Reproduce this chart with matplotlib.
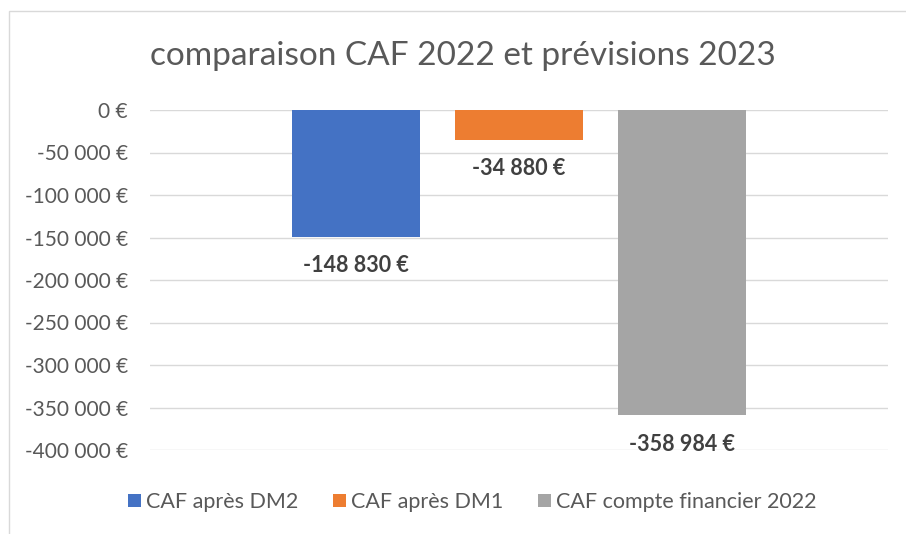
import matplotlib.pyplot as plt
from matplotlib.patches import Rectangle

series = ["CAF après DM2", "CAF après DM1", "CAF compte financier 2022"]
values = [-148830, -34880, -358984]
colors = ["#4472C4", "#ED7D31", "#A5A5A5"]
yticks = [0, -50000, -100000, -150000, -200000, -250000, -300000, -350000, -400000]

plt.rcParams['font.family'] = ['Lato', 'DejaVu Sans']


def euro(v):
    s = '{:,}'.format(int(abs(v))).replace(',', ' ')
    return ('-' if v < 0 else '') + s + ' €'


fig = plt.figure(figsize=(9.06, 5.34), dpi=100)
fig.patches.append(Rectangle((9 / 906, -0.1), 1.2, 1 - 11 / 534 + 0.1, transform=fig.transFigure,
                             fill=False, edgecolor='#D9D9D9', linewidth=1))
ax = fig.add_axes([150 / 906, 1 - 450 / 534, 738 / 906, 340 / 534])

x = range(len(values))
for i in x:
    ax.bar(i, values[i], width=0.783, color=colors[i], label=series[i], zorder=3)
    ax.annotate(euro(values[i]), (i, values[i]), xytext=(0, -21), textcoords='offset points',
                ha='center', va='center', fontsize=15.5, fontweight='bold', color='#404040')

ax.set_xlim(-1.26, 3.26)
ax.set_ylim(-400000, 0)
ax.set_yticks(yticks)
ax.set_yticklabels([euro(v) for v in yticks], fontsize=15, color='#595959')
ax.set_xticks([])
ax.grid(axis='y', color='#D9D9D9', linewidth=1, zorder=0)
ax.tick_params(axis='y', length=0, pad=16)
for s in ax.spines.values():
    s.set_visible(False)

fig.text(463 / 906, 1 - 56 / 534, "comparaison CAF 2022 et prévisions 2023", ha='center', va='center',
         fontsize=24, color='#595959')

leg = fig.legend(loc='center', bbox_to_anchor=(472 / 906, 1 - 502 / 534), ncol=3, frameon=False,
                 fontsize=15.5, handlelength=0.6, handleheight=0.6, handletextpad=0.25, columnspacing=1.6)
for t in leg.get_texts():
    t.set_color('#595959')

fig.savefig('out.png', dpi=100)
